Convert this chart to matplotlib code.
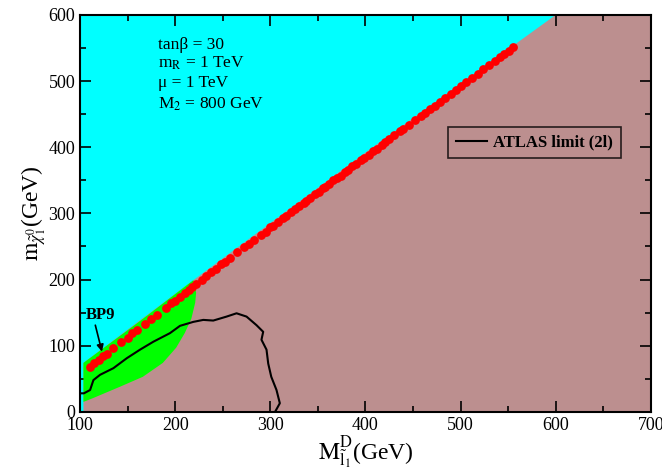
import matplotlib
matplotlib.use("Agg")
import matplotlib.pyplot as plt
from matplotlib.ticker import MultipleLocator

plt.rcParams['font.family'] = ['Liberation Serif', 'DejaVu Serif']
plt.rcParams['mathtext.fontset'] = 'stix'

# Cyan / brown boundary (allowed region above)
cyan_x = [100, 103.5, 103.5, 220, 400, 600, 100]
cyan_y = [0, 0, 74, 200, 392, 600, 600]

# Green region
green_x = [103.5, 114, 142, 166, 187, 201, 210, 217, 221, 222, 219, 160, 103.5]
green_y = [15, 21, 38, 53, 74, 97, 119, 141, 165, 180, 199, 134, 74]

# Red points
red_x = [110, 115, 120, 124, 128, 135, 143, 150, 155, 160, 168, 175, 181, 190, 196, 200, 205,
         210, 214, 218, 222, 228, 232, 238, 243, 248, 252, 258, 265, 272, 278, 283, 290, 295,
         300, 303, 308, 313, 317, 322, 326, 330, 335, 338, 342, 347, 351, 355, 358, 362, 366,
         370, 374, 378, 382, 386, 390, 395, 399, 404, 408, 412, 417, 421, 425, 430, 436, 440,
         446, 452, 458, 463, 468, 473, 478, 484, 490, 495, 500, 506, 512, 518, 524, 530, 536,
         541, 546, 551, 555]
red_y = [68, 74, 79, 85, 88, 97, 105, 112, 119, 124, 133, 141, 147, 157, 165, 168, 174,
         180, 184, 189, 193, 199, 205, 211, 216, 223, 226, 233, 241, 249, 254, 260, 268, 272,
         279, 281, 287, 293, 296, 302, 306, 311, 316, 319, 324, 329, 333, 338, 340, 345, 350,
         353, 357, 362, 366, 371, 374, 380, 384, 389, 394, 398, 404, 408, 412, 418, 424, 428,
         434, 441, 447, 452, 458, 463, 469, 475, 481, 486, 492, 498, 505, 511, 518, 524, 530,
         536, 541, 546, 551]

# ATLAS limit (2l) contour
atlas_x = [100, 104, 110.5, 114, 121, 135, 149, 163, 177, 194.5, 205, 219, 229.5, 240, 254,
           264.5, 275, 285.5, 292.5, 290.7, 296, 297.8, 301, 306.5, 310, 305]
atlas_y = [28, 28, 33, 48, 56, 66, 81, 94, 106, 119, 130, 136, 139, 138, 144,
           149, 144, 131, 121, 109, 94, 73, 53, 33, 13, 0]

fig = plt.figure(figsize=(6.62, 4.68), dpi=100)
ax = fig.add_axes([0.121, 0.120, 0.862, 0.848])
ax.set_xlim(100, 700)
ax.set_ylim(0, 600)
ax.set_facecolor('#bc8f8f')

ax.fill(cyan_x, cyan_y, color='#00ffff', lw=0, zorder=1)
ax.fill(green_x, green_y, color='#00ff00', lw=0, zorder=2)
ax.plot(atlas_x, atlas_y, color='black', lw=1.5, zorder=3, label='ATLAS limit (2l)')
ax.scatter(red_x, red_y, s=40, color='#ff0000', lw=0, zorder=4)

ax.xaxis.set_major_locator(MultipleLocator(100))
ax.xaxis.set_minor_locator(MultipleLocator(50))
ax.yaxis.set_major_locator(MultipleLocator(100))
ax.yaxis.set_minor_locator(MultipleLocator(50))
ax.tick_params(which='both', direction='in', top=True, right=True, labelsize=13, width=1.2)
ax.tick_params(which='major', length=8)
ax.tick_params(which='minor', length=4)
for lab in ax.get_xticklabels() + ax.get_yticklabels():
    lab.set_family('Liberation Serif')
for s in ax.spines.values():
    s.set_linewidth(1.5)

ax.set_xlabel(r'$\mathrm{M}^{\mathrm{D}}_{\tilde{\mathrm{l}}_{1}}$(GeV)', fontsize=17, labelpad=0)
ax.set_ylabel(r'$\mathrm{m}_{\tilde{\chi}^{0}_{1}}$(GeV)', fontsize=17, labelpad=0)

tx = 0.137
ax.text(tx, 0.925, 'tanβ = 30', transform=ax.transAxes, fontsize=12.5, va='center')
ax.text(tx, 0.877, r'm$_{\mathrm{R}}$ = 1 TeV', transform=ax.transAxes, fontsize=12.5, va='center')
ax.text(tx, 0.829, 'μ = 1 TeV', transform=ax.transAxes, fontsize=12.5, va='center')
ax.text(tx, 0.776, r'M$_{2}$ = 800 GeV', transform=ax.transAxes, fontsize=12.5, va='center')

ax.text(122, 147, 'BP9', fontsize=12, fontweight='bold', ha='center', va='center')
ax.annotate('', xy=(123, 91), xytext=(116, 131),
            arrowprops=dict(arrowstyle='-|>', color='black', lw=1.2, shrinkA=0, shrinkB=0,
                            mutation_scale=10))

leg = ax.legend(loc='upper right', bbox_to_anchor=(0.947, 0.718), borderaxespad=0,
                frameon=True, fancybox=False,
                facecolor='#bc8f8f', edgecolor='black', prop={'weight': 'bold', 'size': 12},
                handlelength=1.9, handletextpad=0.35, borderpad=0.45)
leg.get_frame().set_linewidth(1.2)

fig.savefig('out.png', dpi=100)
